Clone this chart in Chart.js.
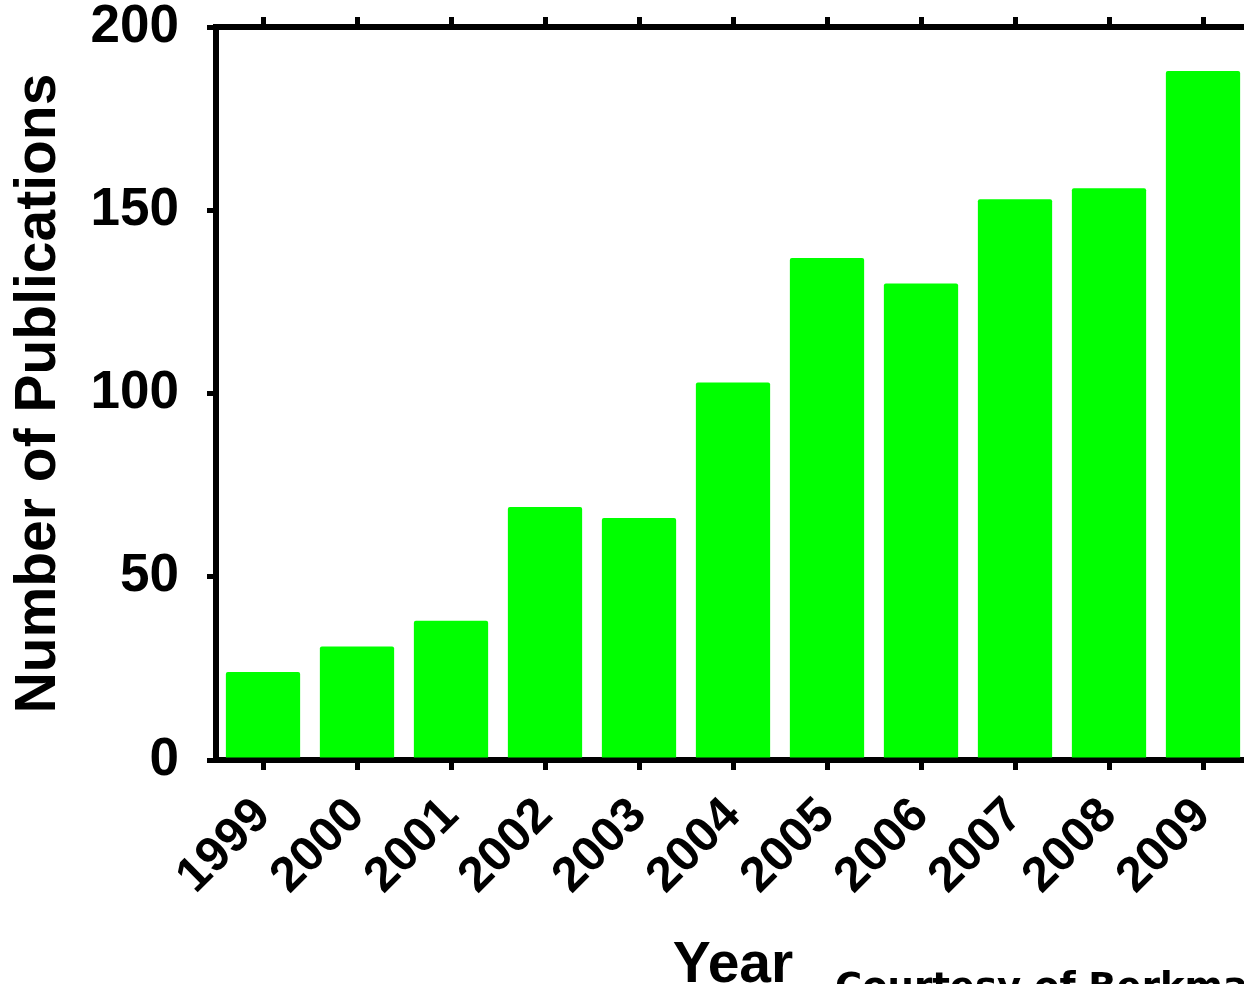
<!DOCTYPE html>
<html>
<head>
<meta charset="utf-8">
<script src="https://cdn.jsdelivr.net/npm/chart.js@4.4.0/dist/chart.umd.min.js"></script>
<style>
  html, body { margin: 0; padding: 0; background: #fff; overflow: hidden; }
  #wrap { position: relative; width: 1250px; height: 1000px; }
</style>
</head>
<body>
<div id="wrap"><canvas id="pubChart"></canvas></div>
<script>
// data
const years = ['1999', '2000', '2001', '2002', '2003', '2004', '2005', '2006', '2007', '2008', '2009'];
const publications = [24, 31, 38, 69, 66, 103, 137, 130, 153, 156, 188];
const yTicks = [0, 50, 100, 150, 200];

Chart.defaults.font.family = '"Liberation Sans", Arial, Helvetica, sans-serif';
Chart.defaults.font.weight = 'bold';
Chart.defaults.color = '#000';

// credit line at the bottom, mostly cut off by the window
const courtesy = {
    id: 'courtesy',
    afterDraw(chart) {
        const ctx = chart.ctx;
        ctx.save();
        ctx.font = 'bold 37px "DejaVu Sans"';
        ctx.fillStyle = '#000';
        ctx.textBaseline = 'alphabetic';
        ctx.fillText('Courtesy of Berkman', 835, 999);
        ctx.restore();
    }
};

// keep the plot box where the picture has it
function noPad(scale) {
    scale.paddingTop = 0;
    scale.paddingBottom = 0;
    scale.paddingLeft = 0;
    scale.paddingRight = 0;
}

const ctx = document.getElementById('pubChart').getContext('2d');
const pubChart = new Chart(ctx, {
    type: 'bar',
    data: {
        labels: years,
        datasets: [{
            data: publications,
            backgroundColor: '#00ff00',
            borderWidth: 0,
            borderRadius: 2,
            borderSkipped: 'bottom',
            barPercentage: 0.79,
            categoryPercentage: 1.0
        }]
    },
    options: {
        responsive: true,
        maintainAspectRatio: false,
        animation: false,
        layout: { padding: 0 },
        plugins: {
            legend: { display: false },
            tooltip: { enabled: false }
        },
        scales: {
            x: {
                position: 'bottom',
                offset: true,
                grid: {
                    drawOnChartArea: false,
                    offset: false,
                    color: '#000',
                    lineWidth: 5,
                    tickLength: 10
                },
                border: { color: '#000', width: 6 },
                ticks: {
                    autoSkip: false,
                    minRotation: 45,
                    maxRotation: 45,
                    padding: 17,
                    font: { size: 49, weight: 'bold' }
                },
                title: {
                    display: true,
                    text: 'Year',
                    padding: 0,
                    font: { size: 57, weight: 'bold' }
                },
                afterFit(scale) { scale.height = 1000 - 760; noPad(scale); }
            },
            x2: {
                type: 'category',
                position: 'top',
                offset: true,
                grid: {
                    drawOnChartArea: false,
                    offset: false,
                    color: '#000',
                    lineWidth: 5,
                    tickLength: 10
                },
                border: { color: '#000', width: 6 },
                ticks: { display: false },
                afterFit(scale) { scale.height = 27; noPad(scale); }
            },
            y: {
                min: 0,
                max: 200,
                afterBuildTicks(scale) {
                    scale.ticks = yTicks.map(v => ({ value: v }));
                },
                grid: {
                    drawOnChartArea: false,
                    color: '#000',
                    lineWidth: 5,
                    tickLength: 9
                },
                border: { color: '#000', width: 6 },
                ticks: {
                    padding: 28,
                    font: { size: 53, weight: 'bold' }
                },
                title: {
                    display: true,
                    text: 'Number of Publications',
                    padding: { top: 5, bottom: 0 },
                    font: { size: 57, weight: 'bold' }
                },
                afterFit(scale) { scale.width = 216; noPad(scale); }
            }
        }
    },
    plugins: [courtesy]
});
</script>
</body>
</html>
